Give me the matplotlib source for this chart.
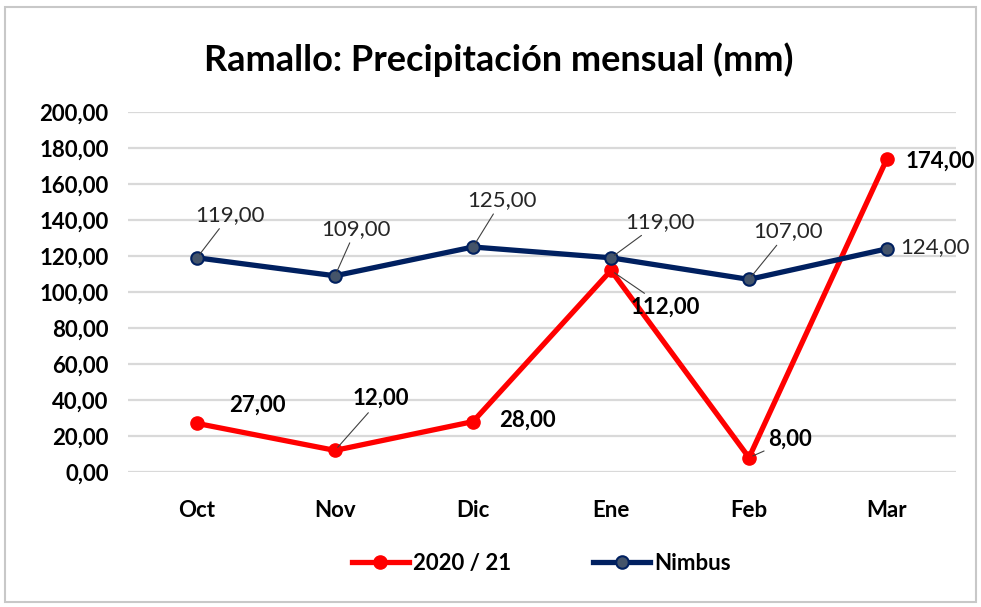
import matplotlib.pyplot as plt
from matplotlib.patches import Rectangle

# datos
meses = ['Oct', 'Nov', 'Dic', 'Ene', 'Feb', 'Mar']
lluvia_2021 = [27, 12, 28, 112, 8, 174]
nimbus = [119, 109, 125, 119, 107, 124]
yticks = [0, 20, 40, 60, 80, 100, 120, 140, 160, 180, 200]

# posicion de etiquetas (pixeles respecto al punto) y si llevan linea guia
off_rojo = [(60, 18, False), (46, 52, True), (54, 1, False), (54, -37, True), (41, 18, True), (53, -2, False)]
off_azul = [(33, 43, True), (21, 47, True), (29, 47, True), (49, 36, True), (39, 48, True), (48, 2, False)]

plt.rcParams['font.family'] = ['Lato', 'DejaVu Sans']

def fmt(v):
    return f'{v:.2f}'.replace('.', ',')

fig = plt.figure(figsize=(9.81, 6.07), dpi=100)
fig.patches.append(Rectangle((0.005, 0.008), 0.99, 0.98, transform=fig.transFigure,
                             fill=False, edgecolor='#C8C8C8', linewidth=1.5))
ax = fig.add_axes([0.1305, 0.2224, 0.844, 0.5931])

x = range(len(meses))
ax.plot(x, lluvia_2021, color='#FF0000', lw=3.8, marker='o', ms=9.5, zorder=3, label='2020 / 21')
ax.plot(x, nimbus, color='#002060', lw=3.8, marker='o', ms=9, mfc='#44546A', mec='#002060',
        mew=1.5, zorder=3, label='Nimbus')

for i, v in enumerate(nimbus):
    dx, dy, guia = off_azul[i]
    ax.annotate(fmt(v), (i, v), xytext=(dx, dy), textcoords='offset pixels', ha='center', va='center',
                fontsize=16, color='#262626', zorder=5,
                arrowprops=dict(arrowstyle='-', color='#404040', lw=0.8, shrinkA=1, shrinkB=3) if guia else None)
for i, v in enumerate(lluvia_2021):
    dx, dy, guia = off_rojo[i]
    ax.annotate(fmt(v), (i, v), xytext=(dx, dy), textcoords='offset pixels', ha='center', va='center',
                fontsize=16, fontweight='bold', color='#000000', zorder=5,
                arrowprops=dict(arrowstyle='-', color='#404040', lw=0.8, shrinkA=1, shrinkB=3) if guia else None)

ax.set_xlim(-0.5, len(meses) - 0.5)
ax.set_ylim(0, 200)
ax.set_yticks(yticks)
ax.set_yticklabels([fmt(t) for t in yticks], fontsize=16, fontweight='bold')
ax.set_xticks(list(x))
ax.set_xticklabels(meses, fontsize=16, fontweight='bold')
ax.tick_params(length=0)
ax.tick_params(axis='y', pad=14)
ax.tick_params(axis='x', pad=20)
ax.grid(axis='y', color='#D9D9D9', lw=1.6)
ax.set_axisbelow(True)
for s in ax.spines.values():
    s.set_visible(False)

fig.text(0.508, 0.902, 'Ramallo: Precipitación mensual (mm)', ha='center', va='center',
         fontsize=26, fontweight='bold')
fig.legend(loc='center', bbox_to_anchor=(0.552, 0.072), ncol=2, frameon=False,
           prop={'weight': 'bold', 'size': 16}, handlelength=2.55, columnspacing=3.7,
           handletextpad=0.2)

fig.savefig('out.png', dpi=100)
